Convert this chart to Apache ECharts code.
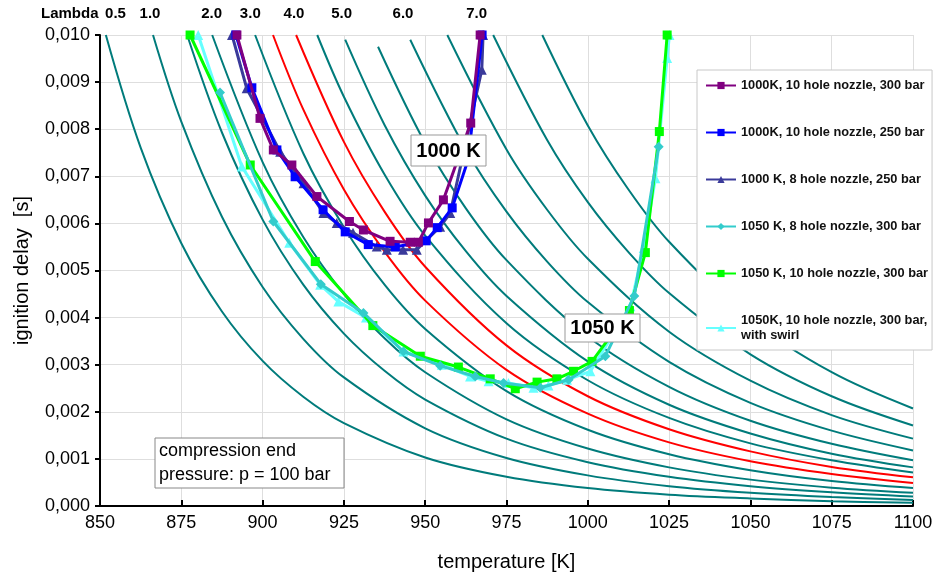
<!DOCTYPE html>
<html>
<head>
<meta charset="utf-8">
<script src="https://cdn.jsdelivr.net/npm/echarts@6/dist/echarts.min.js"></script>
<style>
  html, body { margin: 0; padding: 0; background: #fff; }
  #main { width: 939px; height: 578px; }
</style>
</head>
<body>
<div id="main"></div>
<script>
// lambda curves [temperature K, ignition delay s], left to right
var lam01 = [[851.8,0.0100],[862.5,0.00761],[875,0.00558],[887.5,0.00413],[900,0.00308],[912.5,0.00232],[925,0.00176],[950,0.00103],[975,0.00062],[1000,0.00038],[1025,0.00024],[1050,0.00016],[1075,0.00010],[1100,0.00007]];
var lam02 = [[866.3,0.0100],[875,0.00816],[887.5,0.00614],[900,0.00465],[912.5,0.00355],[925,0.00273],[950,0.00165],[975,0.00102],[1000,0.00065],[1025,0.00042],[1050,0.00028],[1075,0.00019],[1100,0.00013]];
var lam03 = [[876.8,0.0100],[887.5,0.00793],[900,0.00608],[912.5,0.00470],[925,0.00366],[937.5,0.00287],[950,0.00226],[975,0.00143],[1000,0.00093],[1025,0.00062],[1050,0.00042],[1075,0.00029],[1100,0.00020]];
var lam04 = [[884.5,0.0100],[900,0.00730],[912.5,0.00571],[925,0.00450],[937.5,0.00356],[950,0.00284],[975,0.00184],[1000,0.00122],[1025,0.00082],[1050,0.00056],[1075,0.00039],[1100,0.00028]];
var lam05 = [[897.7,0.0100],[912.5,0.00749],[925,0.00592],[937.5,0.00470],[950,0.00376],[975,0.00244],[1000,0.00162],[1025,0.00110],[1050,0.00076],[1075,0.00053],[1100,0.00038]];
var lam06 = [[903.2,0.0100],[912.5,0.00842],[925,0.00672],[937.5,0.00540],[950,0.00436],[975,0.00289],[1000,0.00196],[1025,0.00135],[1050,0.00095],[1075,0.00068],[1100,0.00049]];
var lam07 = [[910.3,0.0100],[925,0.00773],[937.5,0.00625],[950,0.00508],[975,0.00341],[1000,0.00233],[1025,0.00163],[1050,0.00116],[1075,0.00083],[1100,0.00061]];
var lam08 = [[916.8,0.0100],[925,0.00869],[937.5,0.00704],[950,0.00574],[975,0.00388],[1000,0.00267],[1025,0.00187],[1050,0.00133],[1075,0.00097],[1100,0.00071]];
var lam09 = [[925.4,0.0099],[937.5,0.00809],[950,0.00659],[962.5,0.00541],[975,0.00446],[1000,0.00307],[1025,0.00215],[1050,0.00154],[1075,0.00111],[1100,0.00082]];
var lam10 = [[935.5,0.00975],[950,0.00770],[962.5,0.00632],[975,0.00522],[1000,0.00360],[1025,0.00253],[1050,0.00181],[1075,0.00132],[1100,0.00097]];
var lam11 = [[945.4,0.0099],[962.5,0.00757],[975,0.00625],[987.5,0.00519],[1000,0.00433],[1025,0.00306],[1050,0.00219],[1075,0.00160],[1100,0.00118]];
var lam12 = [[956.8,0.0100],[975,0.00757],[987.5,0.00629],[1000,0.00525],[1025,0.00370],[1050,0.00266],[1075,0.00193],[1100,0.00143]];
var lam13 = [[970.9,0.0100],[987.5,0.00777],[1000,0.00645],[1012.5,0.00539],[1025,0.00452],[1050,0.00322],[1075,0.00233],[1100,0.00171]];
var lam14 = [[986.0,0.0100],[1000,0.00808],[1012.5,0.00672],[1025,0.00561],[1050,0.00396],[1075,0.00284],[1100,0.00207]];
var lambdaCurves = [lam01, lam02, lam03, lam04, lam05, lam06, lam07, lam08, lam09, lam10, lam11, lam12, lam13, lam14];
var redCurves = [5, 6];   // index of the two red ones

// measured series
var k1000n10p300 = [[892.1,0.0100],[899.2,0.00823],[903.3,0.00756],[909.0,0.00724],[916.7,0.00657],[926.7,0.00604],[931.0,0.00586],[939.2,0.00562],[945.4,0.00560],[947.9,0.00560],[951.0,0.00601],[955.6,0.00650],[964.0,0.00813],[966.9,0.0100]];
var k1000n10p250 = [[891.8,0.0100],[896.7,0.00888],[904.4,0.00756],[910.0,0.00699],[918.6,0.00629],[925.4,0.00582],[932.5,0.00555],[940.8,0.00550],[950.3,0.00563],[953.7,0.00591],[958.3,0.00633],[963.2,0.00735],[967.5,0.0100]];
var k1000n8p250 = [[890.6,0.0100],[895.1,0.00887],[905.4,0.00752],[912.6,0.00685],[918.7,0.00622],[922.8,0.00601],[927.8,0.00580],[935.1,0.00551],[938.2,0.00544],[943.2,0.00544],[947.4,0.00544],[954.6,0.00593],[957.7,0.00622],[967.4,0.00926],[967.8,0.0100]];
var k1050n8p300 = [[886.9,0.00878],[903.3,0.00604],[917.9,0.00471],[931.0,0.00410],[943.3,0.00328],[954.6,0.00298],[965.4,0.00275],[974.1,0.00261],[985.4,0.00251],[994.1,0.00268],[1005.4,0.00318],[1014.3,0.00446],[1021.8,0.00763]];
var k1050n10p300 = [[877.7,0.0100],[896.2,0.00724],[916.2,0.00519],[933.9,0.00383],[948.5,0.00318],[960.2,0.00295],[970.0,0.00270],[977.7,0.00249],[984.4,0.00263],[990.5,0.00270],[995.6,0.00286],[1001.3,0.00307],[1012.8,0.00415],[1017.7,0.00538],[1022.0,0.00795],[1024.4,0.0100]];
var k1050swirl = [[880.2,0.0100],[893.6,0.00721],[908.2,0.00559],[917.7,0.00470],[923.3,0.00434],[931.8,0.00400],[943.3,0.00328],[955.1,0.00300],[963.8,0.00275],[969.5,0.00265],[975.6,0.00261],[983.3,0.00251],[987.9,0.00256],[993.6,0.00268],[1000.8,0.00286],[1013.1,0.00424],[1017.2,0.00548],[1020.8,0.00696],[1024.4,0.00951],[1025.1,0.0100]];

var seriesNames = ['1000K, 10 hole nozzle, 300 bar', '1000K, 10 hole nozzle, 250 bar', '1000 K, 8 hole nozzle, 250 bar',
                   '1050 K, 8 hole nozzle, 300 bar', '1050 K, 10 hole nozzle, 300 bar', '1050K, 10 hole nozzle, 300 bar, with swirl'];
var seriesData = [k1000n10p300, k1000n10p250, k1000n8p250, k1050n8p300, k1050n10p300, k1050swirl];
var seriesColors = ['#800080', '#0000ff', '#3a3a9a', '#33cccc', '#00ff00', '#66ffff'];
var seriesSymbols = ['rect', 'rect', 'triangle', 'diamond', 'rect', 'triangle'];
var seriesZ = [5, 4, 3, 6, 5, 4];

var lambdaLabels = ['0.5', '1.0', '2.0', '3.0', '4.0', '5.0', '6.0', '7.0'];
var lambdaLabelX = [115.5, 150, 211.7, 250.3, 294, 341.7, 403, 476.7];

var FONT = '"Liberation Sans", Arial, sans-serif';

var series = [];
lambdaCurves.forEach(function (c, i) {
	series.push({
		type: 'line',
		data: c,
		smooth: 0.35,
		showSymbol: false,
		silent: true,
		z: 1,
		lineStyle: { color: redCurves.indexOf(i) >= 0 ? '#ff0000' : '#007b7b', width: 2 }
	});
});
seriesData.forEach(function (d, i) {
	series.push({
		name: seriesNames[i],
		type: 'line',
		data: d,
		symbol: seriesSymbols[i],
		symbolSize: seriesSymbols[i] == 'rect' ? 9 : 10,
		z: seriesZ[i],
		color: seriesColors[i],
		lineStyle: { color: seriesColors[i], width: 3 },
		itemStyle: { color: seriesColors[i] }
	});
});

var graphic = [
	{ type: 'text', left: 41, top: 6, style: { text: 'Lambda', fill: '#000', font: 'bold 15px ' + FONT } }
];
lambdaLabels.forEach(function (t, i) {
	graphic.push({ type: 'text', x: lambdaLabelX[i], y: 14,
		style: { text: t, fill: '#000', font: 'bold 15px ' + FONT, textAlign: 'center', textVerticalAlign: 'middle', verticalAlign: 'middle' } });
});
// annotation boxes
graphic.push(
	{ type: 'rect', shape: { x: 411, y: 135, width: 75, height: 31 }, style: { fill: '#fff', stroke: '#999', lineWidth: 1 }, z: 50 },
	{ type: 'text', x: 448.5, y: 151, z: 51, style: { text: '1000 K', fill: '#000', font: 'bold 20px ' + FONT, textAlign: 'center', textVerticalAlign: 'middle', verticalAlign: 'middle' } },
	{ type: 'rect', shape: { x: 565, y: 314, width: 75, height: 28 }, style: { fill: '#fff', stroke: '#999', lineWidth: 1 }, z: 50 },
	{ type: 'text', x: 602.5, y: 328, z: 51, style: { text: '1050 K', fill: '#000', font: 'bold 20px ' + FONT, textAlign: 'center', textVerticalAlign: 'middle', verticalAlign: 'middle' } },
	{ type: 'rect', shape: { x: 155, y: 438, width: 189, height: 50 }, style: { fill: '#fff', stroke: '#888', lineWidth: 1 }, z: 50 },
	{ type: 'text', x: 159, y: 451, z: 51, style: { text: 'compression end', fill: '#000', font: '18px ' + FONT, textVerticalAlign: 'middle', verticalAlign: 'middle' } },
	{ type: 'text', x: 159, y: 475, z: 51, style: { text: 'pressure: p = 100 bar', fill: '#000', font: '18px ' + FONT, textVerticalAlign: 'middle', verticalAlign: 'middle' } }
);

var option = {
	animation: false,
	backgroundColor: '#fff',
	textStyle: { fontFamily: FONT },
	grid: { left: 100, right: 26, top: 35, bottom: 72 },
	legend: {
		data: seriesNames,
		orient: 'vertical',
		left: 697, top: 70,
		padding: [8, 4, 7, 8],
		itemWidth: 30, itemHeight: 9, itemGap: 32,
		backgroundColor: '#fff', borderColor: '#c8c8c8', borderWidth: 1,
		textStyle: { fontSize: 12.8, fontWeight: 'bold', color: '#111', lineHeight: 15, fontFamily: FONT },
		formatter: function (name) {
			return name == seriesNames[5] ? '1050K, 10 hole nozzle, 300 bar,\nwith swirl' : name;
		},
		z: 40
	},
	xAxis: {
		type: 'value', min: 850, max: 1100, interval: 25,
		name: 'temperature [K]', nameLocation: 'middle', nameGap: 46,
		nameTextStyle: { fontSize: 20, color: '#000' },
		axisLine: { onZero: false, lineStyle: { color: '#000', width: 2 } },
		axisTick: { inside: true, length: 6, lineStyle: { color: '#000', width: 2 } },
		axisLabel: { fontSize: 18, color: '#000', margin: 8,
			formatter: function (v) { return String(v); } },
		splitLine: { lineStyle: { color: '#dedede', width: 1 } }
	},
	yAxis: {
		type: 'value', min: 0, max: 0.010, interval: 0.001,
		name: 'ignition delay  [s]', nameLocation: 'middle', nameGap: 68,
		nameTextStyle: { fontSize: 20, color: '#000' },
		axisLine: { onZero: false, lineStyle: { color: '#000', width: 2 } },
		axisTick: { inside: false, length: 5, lineStyle: { color: '#000', width: 2 } },
		axisLabel: { fontSize: 18, color: '#000', margin: 10,
			formatter: function (v) { return v.toFixed(3).replace('.', ','); } },
		splitLine: { lineStyle: { color: '#dedede', width: 1 } }
	},
	graphic: graphic,
	series: series
};

var chart = echarts.init(document.getElementById('main'));
chart.setOption(option);
</script>
</body>
</html>
